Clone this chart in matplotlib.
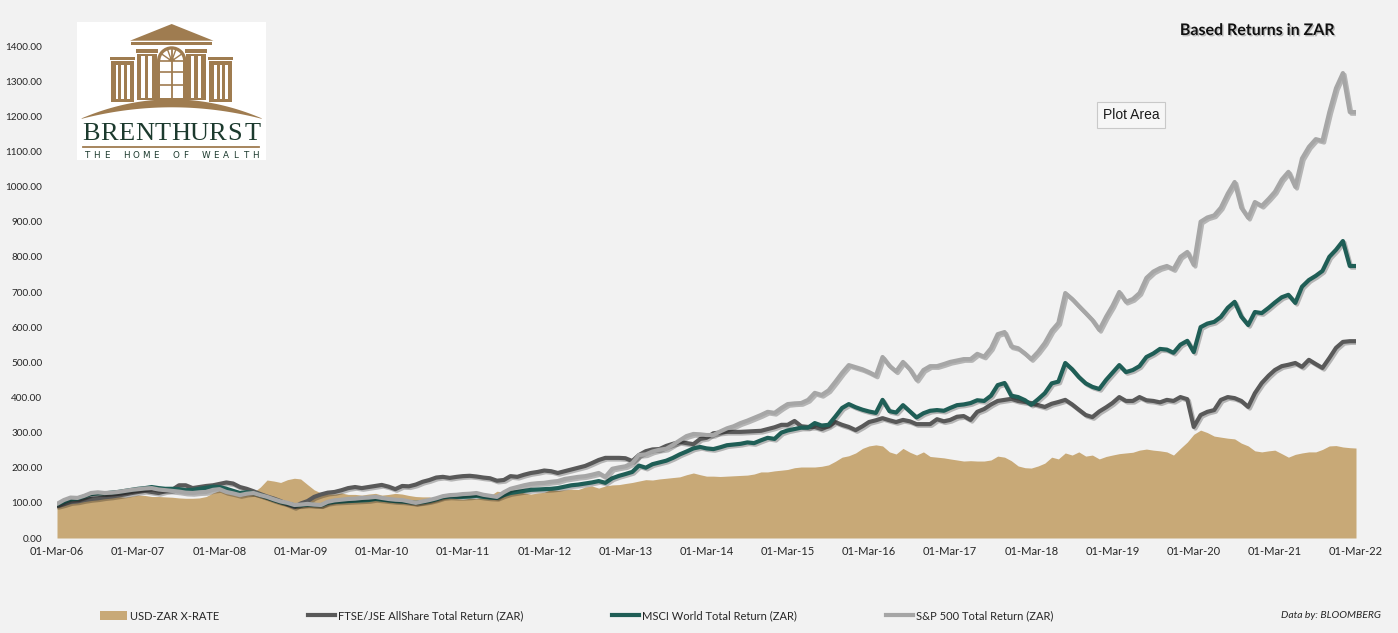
import matplotlib
matplotlib.use('Agg')
import matplotlib.pyplot as plt
import matplotlib.dates as mdates
import matplotlib.patheffects as pe
from matplotlib.patches import Rectangle, Polygon, Wedge, Patch
from matplotlib.lines import Line2D
from matplotlib.ticker import FuncFormatter, MultipleLocator
import numpy as np
import pandas as pd

# ---------------- data ----------------
dates = pd.date_range('2006-03-01', '2022-03-01', freq='MS')

usd_zar = [
    98, 100, 101, 108, 117, 115, 118, 125, 120, 118,
    116, 119, 122, 121, 118, 118, 117, 116, 114, 113,
    113, 114, 118, 128, 135, 133, 128, 128, 125, 130,
    145, 165, 162, 158, 166, 170, 168, 152, 137, 128,
    126, 125, 128, 124, 124, 122, 125, 127, 122, 124,
    127, 125, 121, 118, 117, 117, 110, 118, 113, 112,
    110, 113, 112, 116, 120, 133, 131, 137, 133, 128,
    125, 128, 130, 138, 135, 137, 139, 138, 145, 148,
    142, 148, 151, 152, 155, 158, 162, 166, 165, 168,
    170, 172, 174, 180, 185, 180, 176, 176, 175, 176,
    177, 178, 179, 182, 188, 188, 191, 193, 195, 200,
    202, 202, 202, 204, 208, 218, 230, 234, 242, 255,
    262, 265, 262, 245, 239, 255, 244, 236, 245, 232,
    230, 228, 225, 222, 219, 220, 219, 219, 222, 233,
    230, 220, 205, 200, 199, 205, 213, 230, 225, 242,
    236, 245, 233, 236, 225, 232, 236, 240, 242, 244,
    250, 253, 250, 248, 245, 236, 255, 273, 295, 307,
    300, 290, 287, 284, 282, 270, 262, 248, 245, 248,
    250, 240, 230, 238, 242, 245, 245, 252, 262, 263,
    259, 257, 256]

ftse = [
    91, 96, 102, 104, 108, 111, 113, 116, 118, 121,
    124, 128, 131, 134, 131, 128, 133, 137, 150, 150,
    142, 145, 148, 150, 154, 158, 155, 145, 140, 133,
    125, 118, 112, 105, 96, 88, 98, 105, 117, 124,
    129, 131, 136, 142, 145, 142, 145, 148, 151, 146,
    139, 148, 147, 152, 160, 165, 172, 174, 171, 174,
    176, 177, 175, 172, 170, 163, 165, 176, 174, 180,
    185, 188, 192, 190, 185, 190, 195, 200, 205, 213,
    222, 228, 228, 228, 227, 219, 236, 247, 252, 253,
    262, 268, 273, 270, 267, 282, 285, 298, 300, 302,
    302, 302, 303, 304, 305, 310, 315, 322, 322, 333,
    318, 316, 316, 310, 318, 330, 322, 316, 307, 318,
    330, 335, 341, 335, 330, 336, 332, 324, 324, 324,
    338, 332, 336, 345, 347, 336, 359, 367, 380, 390,
    393, 396, 390, 387, 384, 378, 373, 382, 387, 393,
    380, 365, 350, 344, 360, 372, 384, 401, 390, 390,
    401, 392, 390, 386, 393, 390, 401, 395, 316, 350,
    359, 364, 393, 401, 398, 390, 373, 412, 441, 462,
    478, 489, 493, 498, 487, 507, 495, 484, 512, 541,
    558, 560, 560]

msci = [
    95, 103, 110, 112, 118, 125, 127, 127, 129, 131,
    134, 137, 140, 142, 145, 142, 140, 140, 139, 136,
    137, 140, 143, 146, 145, 140, 134, 128, 130, 128,
    122, 115, 108, 102, 98, 93, 93, 95, 94, 93,
    100, 103, 104, 105, 106, 107, 108, 111, 109, 107,
    105, 104, 102, 100, 102, 105, 110, 116, 118, 117,
    117, 118, 120, 117, 115, 114, 122, 128, 131, 134,
    137, 138, 139, 140, 142, 146, 150, 152, 155, 158,
    162, 157, 170, 177, 182, 188, 206, 200, 210, 215,
    220, 228, 238, 246, 255, 259, 255, 253, 258, 264,
    266, 268, 272, 270, 278, 285, 282, 300, 306, 310,
    314, 314, 327, 320, 322, 345, 370, 381, 372, 365,
    360, 356, 393, 361, 357, 378, 360, 343, 355, 362,
    364, 362, 370, 378, 380, 384, 392, 390, 405, 435,
    441, 405, 401, 392, 379, 395, 412, 440, 445, 498,
    480, 458, 440, 430, 424, 450, 470, 492, 472, 478,
    489, 515, 525, 538, 536, 527, 550, 561, 529, 600,
    610, 615, 629, 655, 672, 630, 606, 643, 640, 655,
    670, 685, 692, 669, 715, 734, 746, 760, 800, 820,
    845, 774, 774]

sp500 = [
    97, 108, 115, 114, 120, 128, 130, 128, 129, 131,
    134, 137, 139, 141, 142, 138, 136, 134, 132, 129,
    128, 130, 131, 137, 139, 131, 127, 122, 126, 128,
    122, 117, 110, 104, 100, 94, 95, 97, 95, 94,
    103, 107, 109, 111, 112, 114, 115, 117, 114, 111,
    109, 108, 104, 100, 104, 108, 113, 119, 122, 123,
    125, 126, 128, 123, 120, 117, 130, 140, 145, 150,
    154, 156, 157, 160, 162, 168, 171, 174, 176, 180,
    185, 174, 197, 201, 204, 213, 236, 238, 246, 251,
    254, 265, 278, 290, 296, 295, 293, 293, 303, 312,
    318, 327, 334, 342, 350, 359, 356, 370, 381, 383,
    384, 393, 413, 407, 420, 444, 470, 492, 486, 480,
    472, 462, 515, 490, 474, 501, 480, 450, 478, 489,
    489, 495, 501, 505, 509, 509, 524, 516, 540, 580,
    586, 545, 540, 525, 509, 530, 555, 590, 612, 697,
    680, 660, 640, 620, 592, 630, 660, 700, 672, 680,
    697, 740, 758, 768, 774, 765, 800, 814, 777, 900,
    912, 918, 940, 980, 1013, 940, 911, 956, 945, 965,
    985, 1020, 1042, 999, 1080, 1113, 1135, 1130, 1212, 1280,
    1323, 1212, 1212]

series_labels = ['USD-ZAR X-RATE',
                 'FTSE/JSE AllShare Total Return (ZAR)',
                 'MSCI World Total Return (ZAR)',
                 'S&P 500 Total Return (ZAR)']
title_text = 'Based Returns in ZAR'
source_text = 'Data by: BLOOMBERG'
tooltip_text = 'Plot Area'

# ---------------- styling ----------------
plt.rcParams['font.family'] = ['Lato', 'DejaVu Sans']
BG = '#f2f2f2'
C_FILL = '#c8a977'
C_FTSE = '#595959'
C_MSCI = '#1f5e56'
C_SP = '#a6a6a6'
TXT = '#262626'

W, H = 1398, 633
fig = plt.figure(figsize=(W / 100, H / 100), dpi=100, facecolor=BG)
ax = fig.add_axes([57 / W, 1 - 538 / H, (1356 - 57) / W, (538 - 46) / H])
ax.set_facecolor(BG)

ax.fill_between(dates, usd_zar, 0, color=C_FILL, lw=0, zorder=1)

shadow = [pe.SimpleLineShadow(offset=(1.2, -1.2), alpha=0.25, shadow_color='black'), pe.Normal()]
for vals, col in ((ftse, C_FTSE), (msci, C_MSCI), (sp500, C_SP)):
    ax.plot(dates, vals, color=col, lw=3.0, solid_joinstyle='round',
            solid_capstyle='round', zorder=3, path_effects=shadow)

ax.set_xlim(dates[0], dates[-1])
ax.set_ylim(0, 1400)
ax.yaxis.set_major_locator(MultipleLocator(100))
ax.yaxis.set_major_formatter(FuncFormatter(lambda v, p: f'{v:.2f}'))
ax.xaxis.set_major_locator(mdates.YearLocator(base=1, month=3, day=1))
ax.xaxis.set_major_formatter(mdates.DateFormatter('%d-%b-%y'))
ax.tick_params(axis='both', length=0, colors=TXT)
ax.tick_params(axis='y', pad=10.5, labelsize=7.2)
ax.tick_params(axis='x', pad=6, labelsize=8)
for s in ax.spines.values():
    s.set_visible(False)

# ---------------- legend ----------------
handles = [Patch(facecolor=C_FILL, edgecolor='none'),
           Line2D([], [], color=C_FTSE, lw=3),
           Line2D([], [], color=C_MSCI, lw=3),
           Line2D([], [], color=C_SP, lw=3)]
leg = fig.legend(handles, series_labels, loc='center left',
                 bbox_to_anchor=(90 / W, 1 - 616 / H), ncol=4, frameon=False,
                 fontsize=8, handlelength=2.4, handleheight=0.9,
                 handletextpad=0.3, columnspacing=8.0)
for t in leg.get_texts():
    t.set_color(TXT)

fig.text(1331 / W, 1 - 615 / H, source_text, ha='center', va='center',
         fontsize=7.5, style='italic', color=TXT)

# ---------------- title ----------------
fig.text(1257 / W, 1 - 31 / H, title_text, ha='center', va='center',
         fontsize=11.5, fontweight='bold', color='#111111',
         path_effects=[pe.withSimplePatchShadow(offset=(1, -1), shadow_rgbFace='#888888', alpha=0.5)])

# ---------------- tooltip ----------------
fig.text(1131 / W, 1 - 115 / H, tooltip_text, ha='center', va='center',
         fontsize=10, family='Liberation Sans', color='#1a1a1a',
         bbox=dict(boxstyle='square,pad=0.4', fc='#f6f6f6', ec='#c9c9c9', lw=0.8))

# ---------------- logo ----------------
lax = fig.add_axes([77 / W, 1 - 160 / H, 189 / W, 138 / H])
lax.set_xlim(0, 189)
lax.set_ylim(138, 0)
lax.axis('off')
lax.add_patch(Rectangle((0, 0), 189, 138, facecolor='white', edgecolor='none', zorder=0))
brown = '#9f7c50'
green = '#1c3a2e'
cx = 94.7
# pediment and entablature
lax.add_patch(Polygon([(53, 18.7), (cx, 2), (136.4, 18.7)], closed=True, color=brown, lw=0))
lax.add_patch(Rectangle((54, 20), 81.4, 3.4, color=brown, lw=0))
# side wings
for x0 in (33, 131.4):
    lax.add_patch(Rectangle((x0, 34.7), 25, 3.2, color=brown, lw=0))
    lax.add_patch(Rectangle((x0 + 1, 39.3), 23, 40.4, color=brown, lw=0))
    for sx in (x0 + 5.5, x0 + 11.3, x0 + 17):
        lax.add_patch(Rectangle((sx, 42.5), 2.6, 34.5, color='white', lw=0))
# column groups
for x0 in (60, 109.4):
    lax.add_patch(Rectangle((x0 - 1, 27), 22, 3.6, color=brown, lw=0))
    lax.add_patch(Rectangle((x0, 31.6), 20, 46.4, color=brown, lw=0))
    for sx in (x0 + 4.2, x0 + 11.3):
        lax.add_patch(Rectangle((sx, 34), 3.4, 42, color='white', lw=0))
# central arched window
lax.add_patch(Rectangle((80, 39), 29.4, 39, color=brown, lw=0))
lax.add_patch(Wedge((cx, 39), 14.7, 180, 360, color=brown, lw=0))
lax.add_patch(Wedge((cx, 39), 11.4, 180, 360, color='white', lw=0))
lax.add_patch(Rectangle((cx - 11.4, 39), 22.8, 37, color='white', lw=0))
lax.plot([cx, cx], [27.6, 76], color=brown, lw=1.3)
for yy in (39, 50, 63):
    lax.plot([cx - 11.4, cx + 11.4], [yy, yy], color=brown, lw=1.2)
for ang in (215, 250, 290, 325):
    a = np.deg2rad(ang)
    lax.plot([cx, cx + 11.4 * np.cos(a)], [39, 39 + 11.4 * np.sin(a)], color=brown, lw=1.0)
lax.add_patch(Wedge((cx, 39), 3.2, 180, 360, color=brown, lw=0))
# base arc
xs = np.linspace(4.7, 184.7, 80)
u = 1 - ((xs - cx) / 90.0) ** 2
top = 96.3 - 19.0 * u
bot = 96.8 - 11.5 * u
lax.add_patch(Polygon(np.r_[np.c_[xs, top], np.c_[xs[::-1], bot[::-1]]], closed=True, color=brown, lw=0))
# name
for i, ch in enumerate('BRENTHURST'):
    lax.text(13.6 + i * 18.05, 112, ch, ha='center', va='center', fontsize=19,
             family='Liberation Serif', color=green)
lax.plot([6.3, 181.5], [125, 125], color=brown, lw=1.3)
for i, ch in enumerate('THE HOME OF WEALTH'):
    if ch != ' ':
        lax.text(9.7 + i * 9.92, 133, ch, ha='center', va='center', fontsize=6.3,
                 family='DejaVu Sans', color=green)

fig.savefig('out.png', dpi=100, facecolor=BG)
